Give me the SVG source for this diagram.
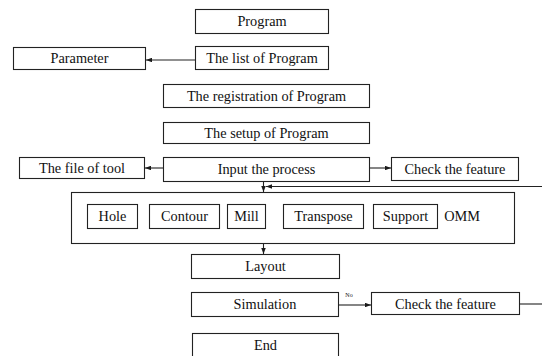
<svg xmlns="http://www.w3.org/2000/svg" width="542" height="356" viewBox="0 0 542 356">
  <defs>
    <marker id="arr" viewBox="0 0 8 6" refX="8" refY="3" markerWidth="6" markerHeight="4.5" orient="auto" markerUnits="userSpaceOnUse">
      <path d="M0,0 L8,3 L0,6 z" fill="#1a1a1a"/>
    </marker>
  </defs>
  <style>
    rect { fill: #ffffff; stroke: #222222; stroke-width: 1.1; }
    text { font-family: 'Times New Roman', Times, 'Liberation Serif', serif; font-size: 14.3px; fill: #111111; text-anchor: middle; }
    .small { font-size: 6px; }
    #connectors line { stroke: #222222; stroke-width: 1.1; fill: none; }
  </style>
  <rect x="0" y="0" width="542" height="356" style="fill:#ffffff;stroke:none"/>

  <g id="program"><rect x="195.5" y="9.5" width="133" height="24"/><text x="262" y="26">Program</text></g>
  <g id="list"><rect x="195.5" y="46.5" width="133" height="23"/><text x="262" y="62.5">The list of Program</text></g>
  <g id="parameter"><rect x="13.5" y="47.5" width="132" height="22"/><text x="79.5" y="63">Parameter</text></g>
  <g id="registration"><rect x="163.5" y="84.5" width="206" height="23"/><text x="266.5" y="100.5">The registration of Program</text></g>
  <g id="setup"><rect x="163.5" y="122.5" width="206" height="21"/><text x="266.5" y="137.5">The setup of Program</text></g>
  <g id="input"><rect x="163.5" y="157.5" width="206" height="24"/><text x="266.5" y="174">Input the process</text></g>
  <g id="tool"><rect x="19.5" y="157.5" width="125" height="21"/><text x="82" y="172.5">The file of tool</text></g>
  <g id="check1"><rect x="391.5" y="157.5" width="127" height="23"/><text x="455" y="173.5">Check the feature</text></g>

  <g id="omm">
    <rect x="71.5" y="192.5" width="443" height="51"/>
    <g id="hole"><rect x="87.5" y="204.5" width="50" height="24"/><text x="112.5" y="221">Hole</text></g>
    <g id="contour"><rect x="149.5" y="204.5" width="70" height="24"/><text x="184.5" y="221">Contour</text></g>
    <g id="mill"><rect x="227.5" y="204.5" width="38" height="24"/><text x="246.5" y="221">Mill</text></g>
    <g id="transpose"><rect x="283.5" y="204.5" width="80" height="24"/><text x="323.5" y="221">Transpose</text></g>
    <g id="support"><rect x="373.5" y="204.5" width="64" height="24"/><text x="405.5" y="221">Support</text></g>
    <text x="462" y="221">OMM</text>
  </g>

  <g id="layout"><rect x="191.5" y="254.5" width="148" height="24"/><text x="265.5" y="271">Layout</text></g>
  <g id="simulation"><rect x="191.5" y="292.5" width="147" height="24"/><text x="265" y="309">Simulation</text></g>
  <g id="check2"><rect x="371.5" y="292.5" width="148" height="22"/><text x="445.5" y="308.5">Check the feature</text></g>
  <g id="end"><rect x="192.5" y="333.5" width="146" height="30"/><text x="265.5" y="350">End</text></g>

  <g id="connectors">
    <line x1="195" y1="60" x2="146" y2="60" marker-end="url(#arr)"/>
    <line x1="163" y1="168" x2="145" y2="168" marker-end="url(#arr)"/>
    <line x1="369" y1="168" x2="391" y2="168" marker-end="url(#arr)"/>
    <line x1="263.5" y1="182" x2="263.5" y2="192" marker-end="url(#arr)"/>
    <line x1="542" y1="186.5" x2="266" y2="186.5" marker-end="url(#arr)"/>
    <line x1="263.5" y1="244" x2="263.5" y2="254" marker-end="url(#arr)"/>
    <line x1="339" y1="305" x2="371" y2="305" marker-end="url(#arr)"/>
    <line x1="519" y1="304" x2="542" y2="304"/>
    <text class="small" x="349" y="297">No</text>
  </g>
</svg>
